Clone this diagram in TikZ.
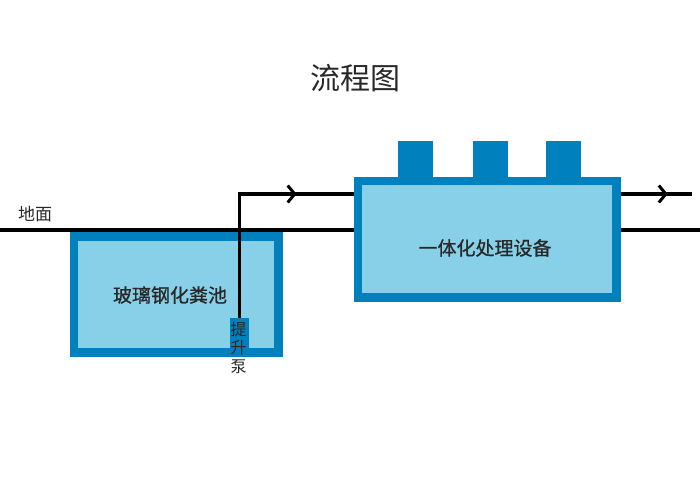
\documentclass[tikz,border=0pt]{standalone}
\usepackage{fontspec}
\newfontfamily\cjk{Noto Sans CJK SC}
\newfontfamily\cjkmed[FakeBold=0.8]{Noto Sans CJK SC}
\usetikzlibrary{arrows.meta,decorations.markings}
\definecolor{tankout}{RGB}{0,128,189}
\definecolor{tankin}{RGB}{135,208,232}
\definecolor{txt}{RGB}{40,40,40}
\tikzset{
  vessel/.style={draw=tankout, fill=tankin, line width=8.5pt, inner sep=0pt},
  lid/.style={fill=tankout, inner sep=0pt, minimum width=35pt, minimum height=36pt},
  pipe/.style={line width=3.5pt, black},
  chev/.style={postaction={decorate}, decoration={markings,
     mark=at position #1 with {\arrow{Straight Barb[length=7pt,width=17pt,line width=3pt]}}}},
  label/.style={text=txt, font=\cjk, inner sep=0pt},
}
\begin{document}
\begin{tikzpicture}[x=1pt,y=-1pt]
\useasboundingbox (0,0) rectangle (700,500);
% ground
\coordinate (g0) at (0,230);
\coordinate (g1) at (700,230);
\draw[line width=3.5pt] (g0) -- (g1);
\node[label, font=\cjk\fontsize{17}{17}\selectfont] (ground) at (35,214) {地面};
% title
\node[label, font=\cjk\fontsize{30}{30}\selectfont] (title) at (355,78) {流程图};
% tank
\node[vessel, minimum width=204.5pt, minimum height=116pt] (tank) at (176.25,294.5) {};
\node[label, font=\cjkmed\fontsize{19}{19}\selectfont] (tanktxt) at (170,295) {玻璃钢化粪池};
% equipment
\node[lid] (lid1) at (415.5,159) {};
\node[lid] (lid2) at (490,159) {};
\node[lid] (lid3) at (563,159) {};
\node[vessel, minimum width=258.5pt, minimum height=116.5pt] (eq) at (487.25,239.25) {};
\node[label, font=\cjkmed\fontsize{19}{19}\selectfont] (eqtxt) at (485,248) {一体化处理设备};
% pump
\node[fill=tankout, inner sep=0pt, minimum width=19pt, minimum height=30pt] (pump) at (239.5,333) {};
\node[label, font=\cjk\fontsize{16}{18.5}\selectfont, align=center] (pumptxt) at (238.5,347.5) {提\\升\\泵};
% pipes
\coordinate (out) at (692,194);
\draw[pipe, chev=0.76] (pump.north) |- (eq.west |- out);
\draw[pipe, chev=0.66] (eq.east |- out) -- (out);
\end{tikzpicture}
\end{document}
